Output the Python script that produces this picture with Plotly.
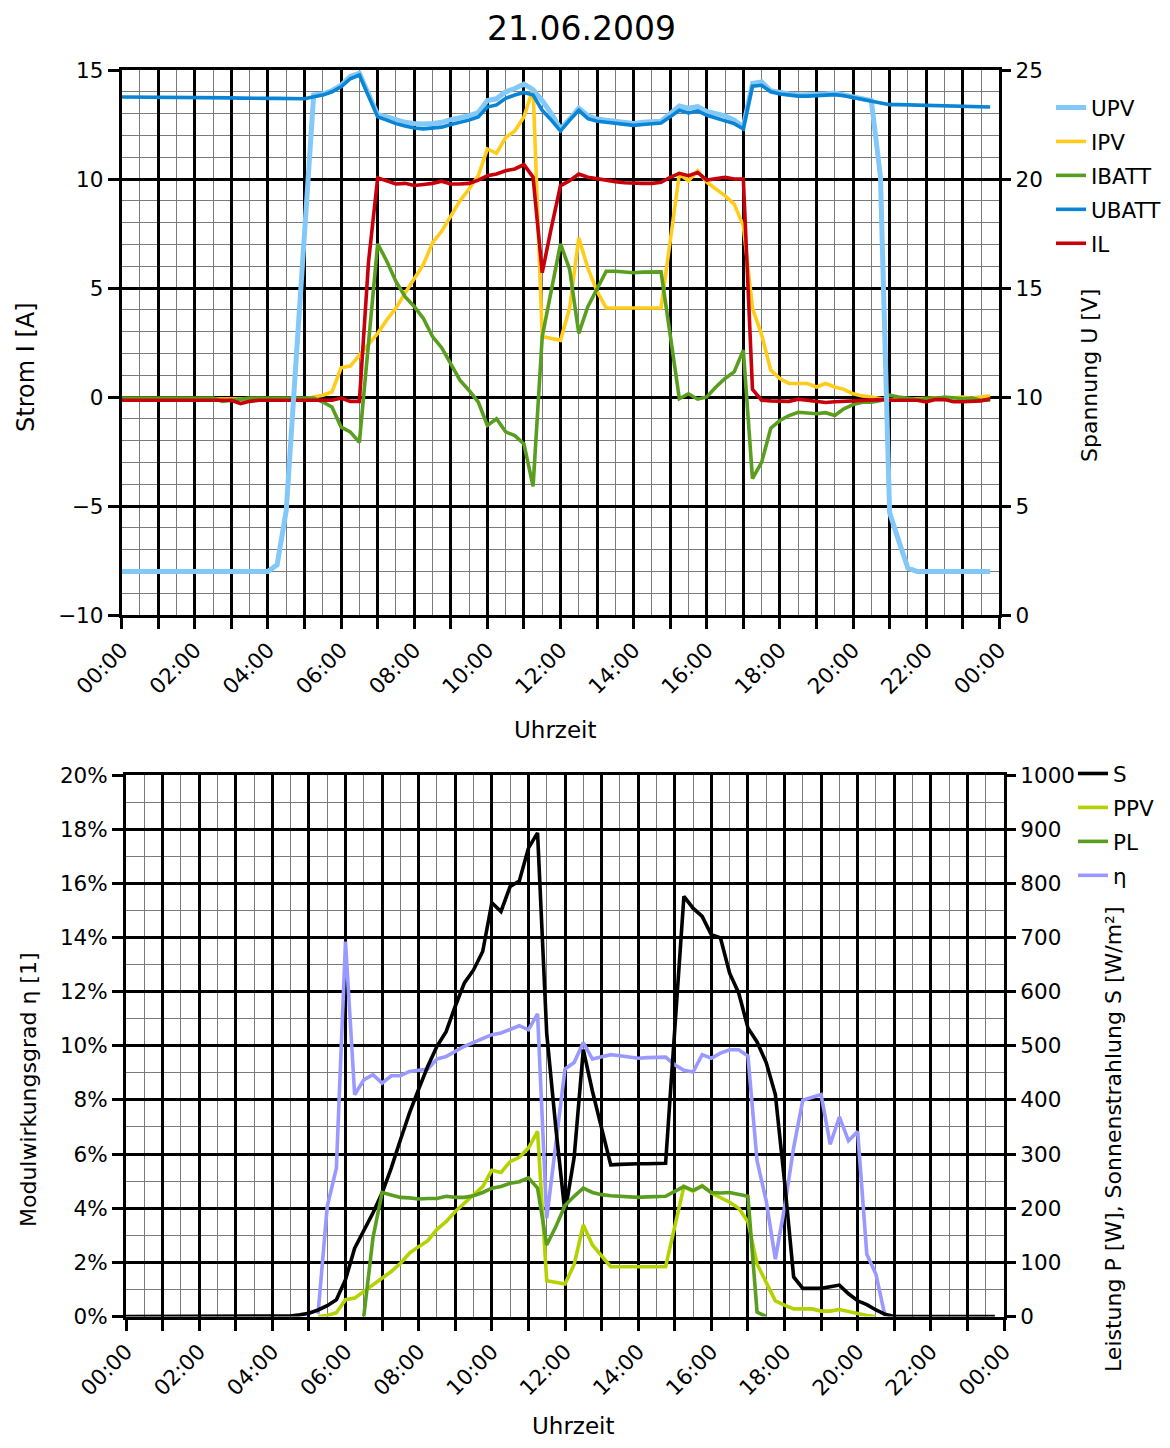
import plotly.graph_objects as go

# ---------------- data (15-minute samples, hours of day) ----------------
hours = [i * 0.25 for i in range(96)]
tick_hours = list(range(25))
tick_labels = ["00:00" if h in (0, 24) else (f"{h:02d}:00" if h % 2 == 0 else "") for h in tick_hours]

U_PV = [2.0]*17 + [2.3, 4.8, 11.2, 17.5, 23.85, 23.9, 24.05, 24.3, 24.7, 24.85, 23.9,
        22.95, 22.85, 22.7, 22.6, 22.55, 22.52, 22.55, 22.6, 22.72, 22.8, 22.9, 23.05,
        23.6, 23.68, 24.0, 24.15, 24.35, 24.1, 23.6, 23.0, 22.3, 22.75, 23.25, 22.9,
        22.75, 22.7, 22.65, 22.6, 22.55, 22.6, 22.62, 22.65, 23.0, 23.35, 23.25, 23.32,
        23.1, 23.0, 22.9, 22.7, 22.4, 24.38, 24.45, 24.05, 23.95, 23.9, 23.85, 23.85,
        23.87, 23.9, 23.94, 23.85, 23.75, 23.67, 23.6, 20.1, 4.7, 3.4, 2.15,
        2.0, 2.0, 2.0, 2.0, 2.0, 2.0, 2.0, 2.0, 2.0]

I_PV = [-0.1, -0.1, -0.12, -0.1, -0.1, -0.08, -0.1, -0.1, -0.12, -0.1, -0.1, -0.1,
        -0.08, -0.1, -0.1, -0.1, -0.1, -0.1, -0.1, -0.1, -0.08,
        0.0, 0.08, 0.23, 1.34, 1.42, 1.92, 2.46, 2.92, 3.54, 4.08, 4.77, 5.46, 6.08,
        7.08, 7.6, 8.3, 9.0, 9.54, 10.15, 11.38, 11.18, 11.9, 12.2, 12.85, 14.15,
        2.77, 2.7, 2.6, 4.08, 7.3, 5.9, 4.85, 4.08, 4.08, 4.08, 4.08, 4.08, 4.08, 4.08,
        7.15, 10.23, 9.92, 10.38, 9.85, 9.54, 9.23, 8.85, 7.85, 4.08, 2.85, 1.23,
        0.85, 0.62, 0.62, 0.62, 0.46, 0.62, 0.46, 0.35, 0.15, 0.05, 0.0, -0.08,
        -0.15, -0.12, -0.1, -0.12, -0.08, -0.05, -0.08, -0.05, 0.0, -0.05, 0.0, 0.05]

I_BATT = [-0.05, -0.05, -0.05, -0.08, -0.05, -0.05, -0.05, -0.05, -0.05, -0.05, -0.05,
          -0.2, -0.15, -0.1, -0.05, -0.05, -0.05, -0.05, -0.05, -0.05, -0.05,
          -0.05, -0.23, -0.46, -1.38, -1.6, -2.08, 2.5, 7.03, 6.23, 5.3, 4.6, 4.15, 3.6,
          2.77, 2.26, 1.54, 0.77, 0.3, -0.23, -1.3, -1.0, -1.6, -1.77, -2.15, -4.1,
          2.77, 4.85, 7.03, 5.85, 2.92, 4.15, 5.0, 5.77, 5.77, 5.73, 5.7, 5.73, 5.74, 5.74,
          2.85, -0.08, 0.15, -0.1, 0.0, 0.46, 0.85, 1.15, 2.15, -3.74, -3.0, -1.43,
          -1.08, -0.85, -0.7, -0.74, -0.77, -0.72, -0.85, -0.54, -0.35, -0.24, -0.24, -0.16,
          0.08, 0.0, -0.08, -0.12, -0.08, -0.08, 0.0, -0.05, -0.08, -0.05, -0.15, -0.15]

U_BATT = [23.76, 23.76, 23.75, 23.76, 23.75, 23.75, 23.75, 23.74, 23.75,
          23.74, 23.73, 23.73, 23.72, 23.71, 23.72, 23.71, 23.70, 23.70, 23.70, 23.70, 23.68,
          23.77, 23.85, 24.0, 24.23, 24.6, 24.77, 23.8, 22.85, 22.7, 22.54, 22.43, 22.34,
          22.3, 22.34, 22.38, 22.5, 22.6, 22.7, 22.85, 23.3, 23.4, 23.7, 23.85, 23.97,
          23.85, 23.15, 22.7, 22.2, 22.7, 23.15, 22.77, 22.65, 22.6, 22.54, 22.5, 22.46,
          22.5, 22.54, 22.57, 22.85, 23.15, 23.03, 23.12, 22.92, 22.8, 22.7, 22.54, 22.3,
          24.26, 24.3, 24.0, 23.9, 23.85, 23.8, 23.8, 23.82, 23.85, 23.87, 23.82, 23.74,
          23.65, 23.57, 23.46, 23.41, 23.41, 23.40, 23.40, 23.38, 23.37, 23.37, 23.36,
          23.36, 23.34, 23.32, 23.30]

I_L = [-0.15, -0.15, -0.12, -0.15, -0.15, -0.15, -0.12, -0.15, -0.15, -0.15, -0.15,
       -0.15, -0.15, -0.3, -0.2, -0.15, -0.15, -0.15, -0.12, -0.15, -0.15,
       -0.15, -0.15, -0.15, -0.05, -0.2, -0.2, 6.2, 10.05, 9.92, 9.77, 9.8, 9.7, 9.75,
       9.8, 9.9, 9.77, 9.77, 9.8, 9.95, 10.15, 10.23, 10.38, 10.46, 10.66, 10.08,
       5.7, 7.77, 9.7, 9.92, 10.23, 10.08, 10.0, 9.92, 9.88, 9.83, 9.8, 9.8, 9.8, 9.85,
       10.08, 10.26, 10.15, 10.3, 9.95, 10.0, 10.08, 10.0, 10.0, 0.35, -0.15, -0.18,
       -0.2, -0.2, -0.1, -0.15, -0.2, -0.25, -0.22, -0.2, -0.15,
       -0.15, -0.15, -0.12, -0.15, -0.15, -0.12, -0.15, -0.22, -0.12, -0.12, -0.22,
       -0.22, -0.18, -0.18, -0.08]

S = [0]*18 + [1, 3, 6, 12, 20, 31, 68, 126, 157, 191, 228, 274, 326, 376, 420, 462,
     499, 526, 573, 616, 640, 674, 764, 748, 794, 804, 865, 893, 523, 348, 191, 294,
     493, 416, 348, 280, 281, 282, 282, 282, 283, 283, 530, 776, 754, 739, 705, 699,
     634, 597, 533, 507, 469, 410, 250, 73, 52, 52, 52, 55, 58, 42, 29, 22, 12, 4] + [0]*12

P_PV = [None]*21 + [0, 2, 7, 31, 34, 46, 58, 69, 83, 98, 117, 129, 140, 161, 175, 194,
        209, 223, 240, 270, 266, 286, 294, 311, 342, 66, 63, 60, 96, 169, 132, 111,
        92, 92, 92, 92, 92, 92, 92, 166, 240, 231, 242, 228, 219, 211, 200, 175, 97,
        64, 29, 21, 14, 14, 14, 10, 10, 13, 9, 6, 2, 0] + [None]*13

P_L = [None]*26 + [0, 145, 229, 225, 220, 219, 217, 218, 218, 222, 220, 220, 223, 229,
       237, 240, 246, 249, 256, 237, 132, 166, 205, 222, 237, 229, 225, 223, 222, 221,
       220, 221, 221, 222, 231, 240, 233, 241, 229, 228, 229, 225, 222, 8, 0] + [None]*25

ETA = [None]*21 + [0.001, 0.0406, 0.0548, 0.1385, 0.0819, 0.0874, 0.0893, 0.0862,
       0.0889, 0.0889, 0.0905, 0.0911, 0.0914, 0.0951, 0.096, 0.0979, 0.0998, 0.1012,
       0.1028, 0.1041, 0.1047, 0.1062, 0.1074, 0.1059, 0.1118, 0.0363, 0.064, 0.0914,
       0.0938, 0.1012, 0.0951, 0.0958, 0.0967, 0.0963, 0.0958, 0.0954, 0.0956, 0.0958,
       0.0958, 0.093, 0.0909, 0.0903, 0.0967, 0.0954, 0.0973, 0.0985, 0.0985, 0.0962,
       0.0575, 0.0427, 0.0212, 0.0402, 0.0624, 0.0799, 0.081, 0.082, 0.0636, 0.0737,
       0.0649, 0.0683, 0.023, 0.0156, 0.0] + [None]*12

# ---------------- layout helpers ----------------
W, H = 1154, 1432
OFF = 8  # default page margin of the html body
FONT = "DejaVu Sans"

def px(x):
    return (x - OFF) / W

def py(y):
    return 1 - (y - OFF) / H

C_UPV, C_IPV, C_IBATT, C_UBATT, C_IL = "#82C8F8", "#FFCC1A", "#5A9E1F", "#0A84D4", "#C8000C"
C_S, C_PPV, C_PL, C_ETA = "#000000", "#B4D200", "#5A9E1F", "#9999FF"

fig = go.Figure()

def add(name, y, color, xa, ya, legend, width=3.6):
    fig.add_trace(go.Scatter(
        x=hours, y=y, name=name, mode="lines", xaxis=xa, yaxis=ya,
        line=dict(color=color, width=width), legend=legend, legendgroup=name,
        connectgaps=False))

add("UPV", U_PV, C_UPV, "x", "y2", "legend", 5)
add("IPV", I_PV, C_IPV, "x", "y", "legend")
add("IBATT", I_BATT, C_IBATT, "x", "y", "legend")
add("UBATT", U_BATT, C_UBATT, "x", "y2", "legend")
add("IL", I_L, C_IL, "x", "y", "legend")

add("S", S, C_S, "x2", "y4", "legend2")
add("PPV", P_PV, C_PPV, "x2", "y4", "legend2")
add("PL", P_L, C_PL, "x2", "y4", "legend2")
add("η", ETA, C_ETA, "x2", "y3", "legend2")

tickfont = dict(family=FONT, size=21.5, color="black")
minor_grid = dict(showgrid=True, gridcolor="#7a7a7a", gridwidth=1.3, ticks="")
common = dict(showline=True, linecolor="black", linewidth=3, mirror=True,
              ticks="outside", ticklen=11, tickwidth=3, tickcolor="black",
              showgrid=True, gridcolor="black", gridwidth=3, zeroline=False,
              tickfont=tickfont, automargin=False)
right = dict(showgrid=False, showline=False, zeroline=False, automargin=False,
             ticks="outside", ticklen=11, tickwidth=3, tickcolor="black", tickfont=tickfont)

x_minor = [h + 0.5 for h in range(24)]
y_minor = [v for v in range(-10, 16) if v % 5 != 0]
y3_minor = [v / 100 for v in range(1, 20, 2)]

xcommon = dict(range=[0, 24], tickmode="array", tickvals=tick_hours, ticktext=tick_labels,
               tickangle=-45, minor=dict(tickmode="array", tickvals=x_minor, **minor_grid),
               **common)

fig.update_layout(
    width=W, height=H, margin=dict(l=0, r=0, t=0, b=0, pad=0, autoexpand=False),
    paper_bgcolor="white", plot_bgcolor="white",
    font=dict(family=FONT, size=20, color="black"),
    xaxis=dict(domain=[px(121.7), px(999.3)], anchor="y", **xcommon),
    yaxis=dict(domain=[py(615), py(70)], range=[-10, 15], tickmode="linear", tick0=0, dtick=5,
               minor=dict(tickmode="array", tickvals=y_minor, **minor_grid), **common),
    yaxis2=dict(overlaying="y", side="right", anchor="x", range=[0, 25], tickmode="linear",
                tick0=0, dtick=5, **right),
    xaxis2=dict(domain=[px(126), px(1004)], anchor="y3", **xcommon),
    yaxis3=dict(domain=[py(1316.5), py(775)], anchor="x2", range=[0, 0.2], tickmode="linear",
                tick0=0, dtick=0.02, tickformat=".0%",
                minor=dict(tickmode="array", tickvals=y3_minor, **minor_grid), **common),
    yaxis4=dict(overlaying="y3", side="right", anchor="x2", range=[0, 1000], tickmode="linear",
                tick0=0, dtick=100, **right),
    legend=dict(x=px(1051), y=py(87), xanchor="left", yanchor="top", bgcolor="rgba(0,0,0,0)",
                font=dict(family=FONT, size=21.5), tracegroupgap=3, itemwidth=30),
    legend2=dict(x=px(1073), y=py(753), xanchor="left", yanchor="top", bgcolor="rgba(0,0,0,0)",
                 font=dict(family=FONT, size=21.5), tracegroupgap=3, itemwidth=30),
    showlegend=True,
)

def label(text, x, y, size=22, angle=0):
    fig.add_annotation(text=text, x=px(x), y=py(y), xref="paper", yref="paper",
                       showarrow=False, textangle=angle, xanchor="center", yanchor="middle",
                       font=dict(family=FONT, size=size, color="black"), borderpad=0)

label("21.06.2009", 581, 28, size=33)
label("Strom I [A]", 26, 367, size=24, angle=-90)
label("Spannung U [V]", 1089, 376, size=22, angle=-90)
label("Uhrzeit", 555, 730, size=23)
label("Modulwirkungsgrad η [1]", 28, 1090, size=22, angle=-90)
label("Leistung P [W], Sonnenstrahlung S [W/m²]", 1113, 1140, size=22, angle=-90)
label("Uhrzeit", 573, 1426, size=23)

fig.write_html("out.html")
